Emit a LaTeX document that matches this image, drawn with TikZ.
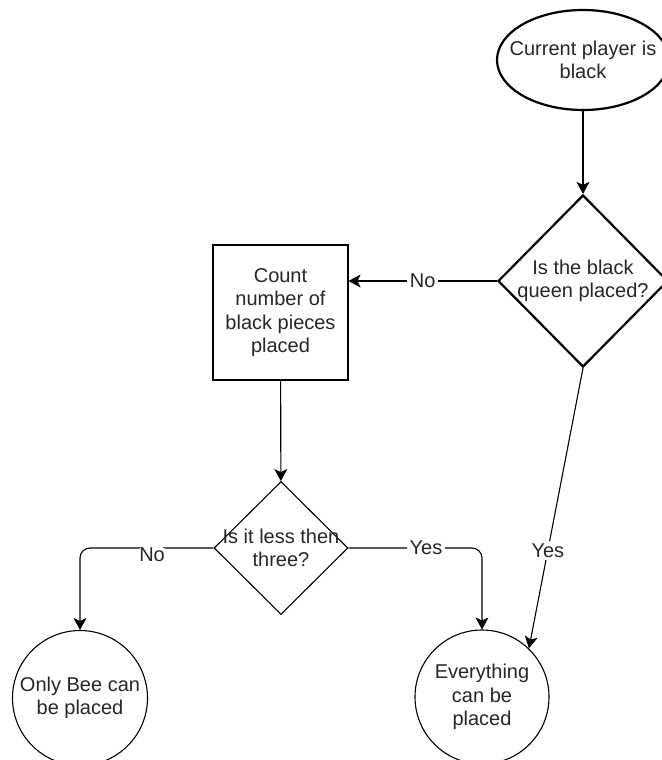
\documentclass[tikz,border=0pt]{standalone}
\usepackage{fontspec}
\setmainfont{Liberation Sans}
\usetikzlibrary{shapes.geometric,arrows.meta}

\begin{document}
\begin{tikzpicture}[x=1pt, y=-1pt,
  every node/.style={font=\fontsize{20}{23.5}\selectfont, text=black!85},
  txt/.style={align=center, inner sep=0pt},
  box/.style={draw, inner sep=0pt, line width=1.1pt},
  bold/.style={box, line width=2.2pt},
  arr/.style={-{Stealth[length=12pt, width=13pt, inset=3pt]}, line width=1.1pt},
  lbl/.style={fill=white, inner sep=2.5pt}]
  \useasboundingbox (0,0) rectangle (661,760);

  \node[bold, ellipse, minimum width=172, minimum height=100,
        label={[txt]center:{Current player is\\black}}] (start) at (583,60) {};
  \node[bold, diamond, minimum width=170, minimum height=172,
        label={[txt]center:{Is the black\\queen placed?}}] (queen) at (583,281) {};
  \node[box, rectangle, minimum size=135,
        label={[txt]center:{Count\\number of\\black pieces\\placed}}] (count) at (280.5,312.5) {};
  \node[box, diamond, minimum width=134, minimum height=133,
        label={[txt]center:{Is it less then\\three?}}] (less) at (281,548) {};
  \node[box, circle, minimum size=135,
        label={[txt]center:{Only Bee can\\be placed}}] (bee) at (80,698) {};
  \node[box, circle, minimum size=134,
        label={[txt]center:{Everything\\can be\\placed}}] (every) at (482,697) {};

  \draw[arr] (start) -- (queen);
  \draw[arr] (queen.west) -- node[lbl]{No} (queen.west -| count.east);
  \draw[arr] (count) -- (less);
  \draw[arr, rounded corners=10] (less.west) -- node[lbl, pos=0.46, yshift=-7]{No} (less.west -| bee.north) -- (bee.north);
  \draw[arr, rounded corners=10] (less.east) -- node[lbl, pos=0.58]{Yes} (less.east -| every.north) -- (every.north);
  \draw[arr] (queen.south) -- node[lbl, pos=0.65]{Yes} (every.46);
\end{tikzpicture}
\end{document}
